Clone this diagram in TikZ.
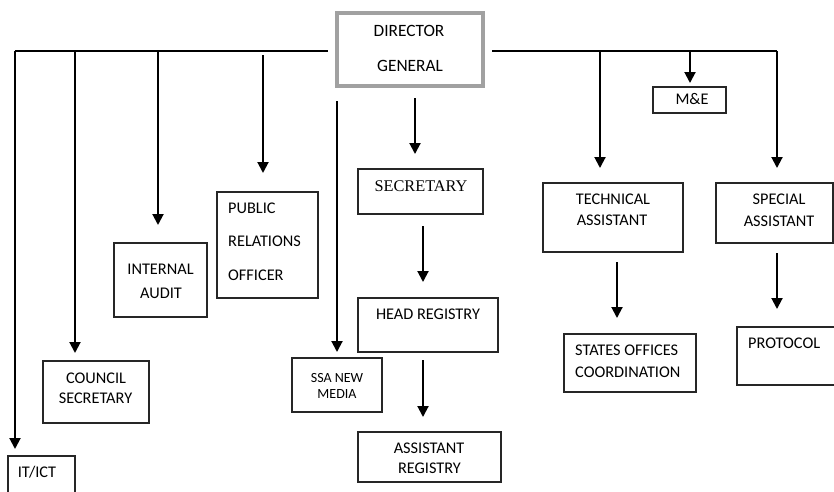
\documentclass[tikz,border=0pt]{standalone}
\usepackage{fontspec}
\setmainfont{Carlito}
\newfontfamily\serifface{Liberation Serif}
\usetikzlibrary{arrows.meta}
\begin{document}
\begin{tikzpicture}[x=1pt,y=-1pt,
  box/.style={draw=black!85, line width=1.1pt, inner sep=0pt, outer sep=0pt},
  chief/.style={draw=black!37, line width=4pt, inner sep=0pt, outer sep=0pt},
  lbl/.style={inner sep=0pt, anchor=base, font=\fontsize{16.3}{19}\selectfont},
  lblw/.style={lbl, anchor=base west},
  bus/.style={line width=1.5pt},
  feed/.style={line width=2pt, -{Triangle[width=11pt,length=11pt]}},
]
\useasboundingbox (0,0) rectangle (834,491);

% ---------- boxes ----------
\node[chief, minimum width=146pt, minimum height=73pt] (dg) at (410,49.5) {};
\node[box, minimum width=67pt,  minimum height=44pt]  (itict)    at (41.5,478) {};
\node[box, minimum width=106pt, minimum height=62pt]  (council)  at (96,392) {};
\node[box, minimum width=93pt,  minimum height=74pt]  (audit)    at (160.5,280) {};
\node[box, minimum width=101pt, minimum height=106pt] (pro)      at (267.5,245) {};
\node[box, minimum width=90pt,  minimum height=54pt]  (ssa)      at (337,385) {};
\node[box, minimum width=125pt, minimum height=45pt]  (sec)      at (420.5,191.5) {};
\node[box, minimum width=140pt, minimum height=54pt]  (head)     at (428,325) {};
\node[box, minimum width=143pt, minimum height=50pt]  (asst)     at (429.5,457) {};
\node[box, minimum width=140pt, minimum height=69pt]  (tech)     at (613,217.5) {};
\node[box, minimum width=132pt, minimum height=58pt]  (states)   at (630,363) {};
\node[box, minimum width=117pt, minimum height=60pt]  (special)  at (774.5,213) {};
\node[box, minimum width=108pt, minimum height=58pt]  (protocol) at (791,356) {};
\node[box, minimum width=73pt,  minimum height=26pt]  (me)       at (689.5,100) {};

% ---------- labels ----------
\node[lbl, font=\fontsize{17.3}{20}\selectfont] (dg1) at (409,36) {DIRECTOR};
\node[lbl, font=\fontsize{17.3}{20}\selectfont] (dg2) at (410,71) {GENERAL};
\node[lbl] (itict1) at (37,477) {IT/ICT};
\node[lbl] (council1) at (96,383) {COUNCIL};
\node[lbl] (council2) at (95.5,403) {SECRETARY};
\node[lbl] (audit1) at (160.5,274) {INTERNAL};
\node[lbl] (audit2) at (161,298) {AUDIT};
\node[lblw] (pro1) at (228,213) {PUBLIC};
\node[lblw] (pro2) at (228,246) {RELATIONS};
\node[lblw] (pro3) at (228,280) {OFFICER};
\node[lbl, font=\fontsize{14}{16}\selectfont] (ssa1) at (337,382) {SSA NEW};
\node[lbl, font=\fontsize{14}{16}\selectfont] (ssa2) at (337,398) {MEDIA};
\node[lbl, font=\serifface\fontsize{16.3}{19}\selectfont] (sec1) at (421,191) {SECRETARY};
\node[lbl] (head1) at (428,319) {HEAD REGISTRY};
\node[lbl] (asst1) at (429,453) {ASSISTANT};
\node[lbl] (asst2) at (429.5,473) {REGISTRY};
\node[lbl] (tech1) at (613,204) {TECHNICAL};
\node[lbl] (tech2) at (612,225) {ASSISTANT};
\node[lblw] (states1) at (575,355) {STATES OFFICES};
\node[lblw] (states2) at (575,377) {COORDINATION};
\node[lbl] (special1) at (779,204) {SPECIAL};
\node[lbl] (special2) at (779,226) {ASSISTANT};
\node[lblw] (protocol1) at (748,348) {PROTOCOL};
\node[lbl] (me1) at (692,104) {M\&E};

% ---------- bus lines ----------
\coordinate (busL) at (15,51);
\coordinate (busR) at (777,51);
\draw[bus] (busL) -- ([xshift=-9pt]dg.west |- busL);
\draw[bus] ([xshift=9pt]dg.east |- busR) -- (busR);

% drops from the left bus
\coordinate (c2) at (75,51);
\coordinate (c3) at (158,51);
\coordinate (c4) at (263,55);
\draw[feed, shorten >=7pt]  (busL) -- (busL |- itict.north);
\draw[feed, shorten >=8pt]  (c2) -- (c2 |- council.north);
\draw[feed, shorten >=18pt] (c3) -- (c3 |- audit.north);
\draw[feed, shorten >=19pt] (c4) -- (c4 |- pro.north);

% drops straight below the director general
\coordinate (c6) at (415,98);
\draw[feed, shorten <=15pt, shorten >=6pt] (dg.south -| ssa.north) -- (ssa.north);
\draw[feed, shorten >=15pt] (c6) -- (c6 |- sec.north);

% drops from the right bus
\coordinate (r1) at (600,51);
\coordinate (r2) at (690,51);
\draw[feed, shorten >=15pt] (r1) -- (r1 |- tech.north);
\draw[feed, shorten >=4pt]  (r2) -- (r2 |- me.north);
\draw[feed, shorten >=15pt] (busR) -- (busR |- special.north);

% chains below the second row
\coordinate (k1) at (423,0);
\coordinate (k2) at (617,0);
\coordinate (k3) at (777,0);
\draw[feed, shorten <=12pt, shorten >=16pt] (sec.south -| k1) -- (head.north -| k1);
\draw[feed, shorten <=8pt,  shorten >=15pt] (head.south -| k1) -- (asst.north -| k1);
\draw[feed, shorten <=10pt, shorten >=16pt] (tech.south -| k2) -- (states.north -| k2);
\draw[feed, shorten <=10pt, shorten >=18pt] (special.south -| k3) -- (protocol.north -| k3);
\end{tikzpicture}
\end{document}
